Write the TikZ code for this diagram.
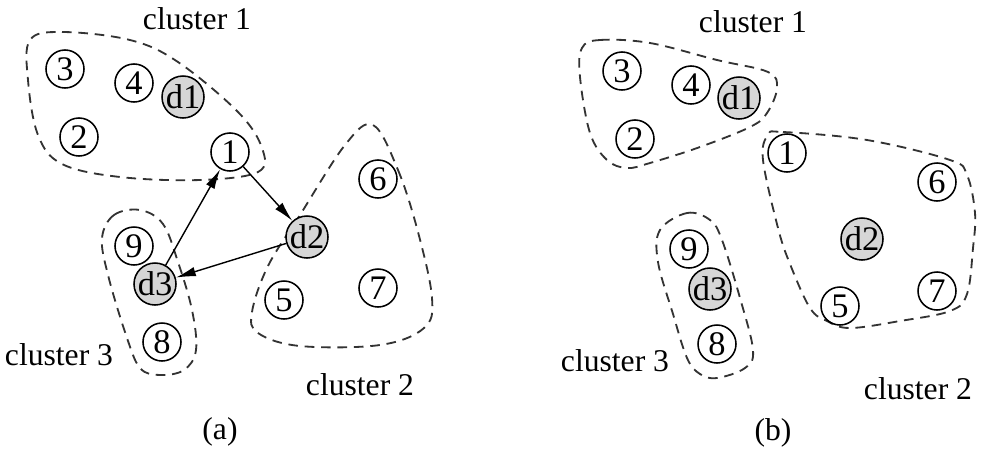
\documentclass[tikz,border=0pt]{standalone}
\usepackage{fontspec}
\setmainfont{Liberation Serif}
\usetikzlibrary{arrows.meta}
\tikzset{
  pt/.style={circle,draw,line width=1.1pt,minimum size=0.95cm,inner sep=0pt,
     font=\fontsize{24.5}{26}\selectfont},
  dpt/.style={pt,fill=black!16},
  clus/.style={draw=black!80,line width=1.3pt,dash pattern=on 0.24cm off 0.17cm},
  lbl/.style={font=\fontsize{22.5}{26}\selectfont,inner sep=0pt},
  arr/.style={line width=1pt,-{Latex[length=0.5cm,width=0.24cm]}}
}
\begin{document}
\begin{tikzpicture}[x=0.025cm,y=-0.025cm]
\useasboundingbox (0,0) rectangle (999,462);
% ---------- panel (a)
\draw[clus] plot[smooth cycle,tension=0.6] coordinates {(30,40) (62,32) (130,40) (178,62) (238,112) (262,148) (258,172) (200,180) (120,177) (62,164) (38,135) (28,80)};
\draw[clus] plot[smooth cycle,tension=0.6] coordinates {(373,125) (398,170) (418,232) (432,298) (424,328) (380,345) (300,346) (258,333) (252,312) (268,266) (300,215) (345,145)};
\draw[clus] plot[smooth cycle,tension=0.6] coordinates {(102,238) (114,215) (140,210) (163,224) (178,262) (192,310) (196,350) (184,370) (160,375) (140,368) (126,335) (108,275)};
\node[lbl] (c1a) at (197,19) {cluster 1};
\node[lbl] (c2a) at (360,385) {cluster 2};
\node[lbl] (c3a) at (59,355) {cluster 3};
\node[lbl] (la) at (220,432) {(a)};
\node[pt] (a3) at (65,69) {3};
\node[pt] (a4) at (134,83) {4};
\node[dpt] (ad1) at (183,97) {d1};
\node[pt] (a2) at (79,137) {2};
\node[pt] (a1) at (230,152) {1};
\node[pt] (a6) at (378,179) {6};
\node[dpt] (ad2) at (307,237) {d2};
\node[pt] (a9) at (134,246) {9};
\node[dpt] (ad3) at (155,284) {d3};
\node[pt] (a5) at (284,300) {5};
\node[pt] (a7) at (378,288) {7};
\node[pt] (a8) at (162,342) {8};
\draw[arr] (ad3) -- (a1);
\draw[arr] (a1) -- (ad2);
\draw[arr] (ad2) -- (ad3);
% ---------- panel (b)
\draw[clus] plot[smooth cycle,tension=0.6] coordinates {(582,48) (600,40) (650,43) (717,60) (768,72) (777,88) (767,113) (750,127) (700,147) (650,163) (627,168) (607,160) (590,133) (580,77)};
\draw[clus] plot[smooth cycle,tension=0.6] coordinates {(768,135) (783,132) (867,140) (950,160) (967,175) (975,213) (973,248) (967,294) (950,311) (900,321) (850,328) (827,321) (810,308) (790,264) (778,228) (763,160)};
\draw[clus] plot[smooth cycle,tension=0.6] coordinates {(660,230) (687,213) (710,220) (722,240) (740,298) (753,350) (745,368) (717,378) (700,374) (687,358) (673,314) (658,262)};
\node[lbl] (c1b) at (753,22) {cluster 1};
\node[lbl] (c2b) at (918,389) {cluster 2};
\node[lbl] (c3b) at (615,361) {cluster 3};
\node[lbl] (lb) at (773,433) {(b)};
\node[pt] (b3) at (622,71) {3};
\node[pt] (b4) at (691,85) {4};
\node[dpt] (bd1) at (739,98) {d1};
\node[pt] (b2) at (635,139) {2};
\node[pt] (b1) at (787,153) {1};
\node[pt] (b6) at (937,182) {6};
\node[dpt] (bd2) at (862,239) {d2};
\node[pt] (b9) at (689,249) {9};
\node[dpt] (bd3) at (710,289) {d3};
\node[pt] (b5) at (840,306) {5};
\node[pt] (b7) at (937,291) {7};
\node[pt] (b8) at (717,344) {8};
\end{tikzpicture}
\end{document}
